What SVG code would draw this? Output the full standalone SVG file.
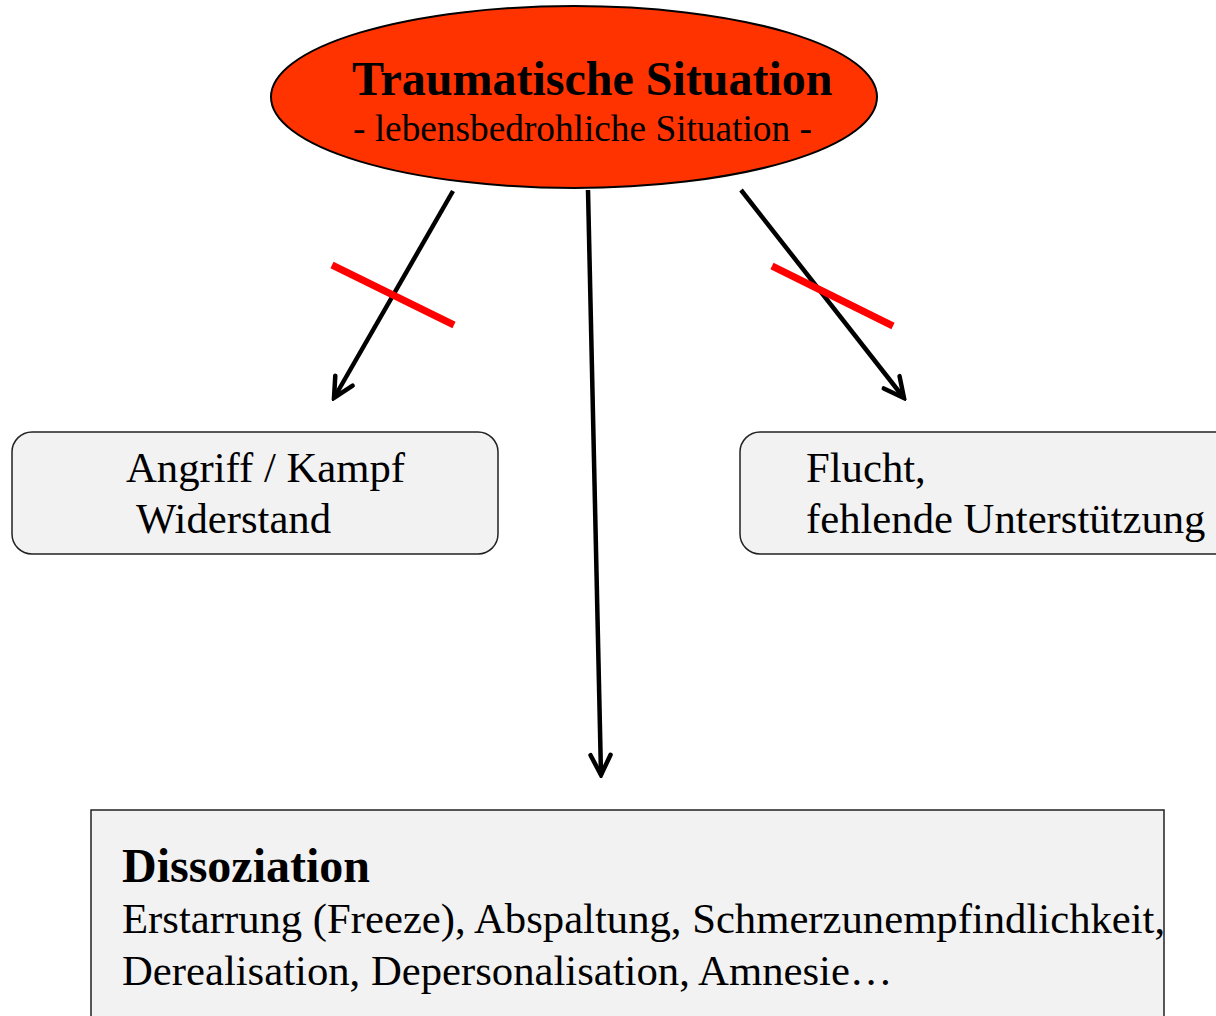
<svg xmlns="http://www.w3.org/2000/svg" width="1216" height="1016" viewBox="0 0 1216 1016">
<style>
text{font-family:"Liberation Serif","Times New Roman",serif;fill:#000}
.title{font-size:48px;font-weight:bold}
.sub{font-size:37.3px}
.body{font-size:42.7px}
.box{fill:#f2f2f2;stroke:#222;stroke-width:1.5}
.conn{stroke:#000;stroke-width:4.5;fill:none;marker-end:url(#arr)}
.cross{stroke:#ff0000;stroke-width:7;fill:none}
</style>
<defs>
<marker id="arr" markerUnits="userSpaceOnUse" markerWidth="32" markerHeight="32" viewBox="0 0 32 32" refX="29" refY="16" orient="auto">
<path d="M9,6 L29,16 L9,26" fill="none" stroke="#000" stroke-width="4.5" stroke-linecap="round" stroke-linejoin="miter"/>
</marker>
</defs>
<rect width="1216" height="1016" fill="#fff"/>
<g id="connectors">
<line class="conn" x1="453" y1="191" x2="334" y2="398"/>
<line class="conn" x1="588" y1="190" x2="601" y2="775"/>
<line class="conn" x1="741" y1="190" x2="904" y2="398"/>
<line class="cross" x1="332" y1="265" x2="454" y2="325"/>
<line class="cross" x1="772" y1="266" x2="893" y2="326"/>
</g>
<g id="trauma">
<ellipse cx="574" cy="97" rx="303" ry="91" fill="#ff3300" stroke="#000" stroke-width="2"/>
<text class="title" x="352" y="95">Traumatische Situation</text>
<text class="sub" x="353" y="141">- lebensbedrohliche Situation -</text>
</g>
<g id="angriff">
<rect class="box" x="12" y="432" width="486" height="122" rx="20"/>
<text class="body" x="126" y="482">Angriff / Kampf</text>
<text class="body" x="136" y="533">Widerstand</text>
</g>
<g id="flucht">
<rect class="box" x="740" y="432" width="500" height="122" rx="20"/>
<text class="body" x="806" y="482">Flucht,</text>
<text class="body" x="806" y="533">fehlende Unterstützung</text>
</g>
<g id="dissoziation">
<rect class="box" x="91" y="810" width="1073" height="230" stroke-width="2"/>
<text class="title" x="122" y="882">Dissoziation</text>
<text class="body" x="122" y="933">Erstarrung (Freeze), Abspaltung, Schmerzunempfindlichkeit,</text>
<text class="body" x="122" y="985">Derealisation, Depersonalisation, Amnesie…</text>
</g>
</svg>
